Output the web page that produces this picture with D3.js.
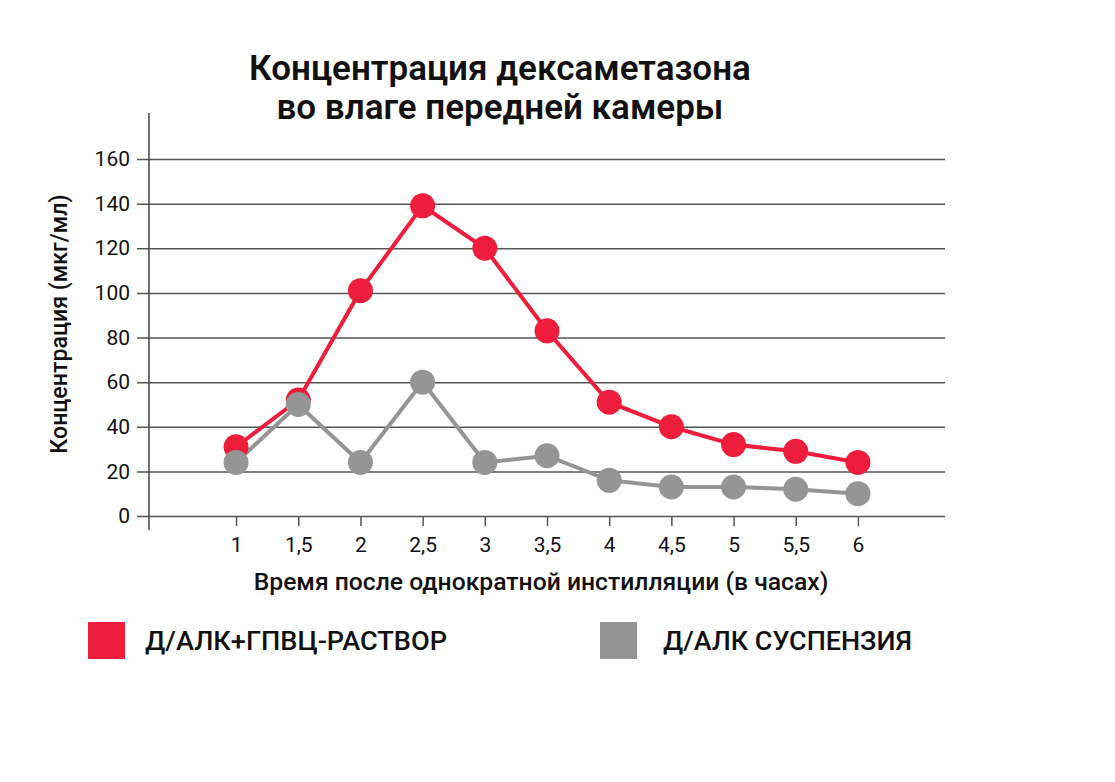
<!DOCTYPE html>
<html>
<head>
<meta charset="utf-8">
<script src="https://cdn.jsdelivr.net/npm/d3@7"></script>
<style>
  body { margin: 0; background: #fff; }
  text { font-family: Roboto, "Noto Sans", sans-serif; fill: #111; }
</style>
</head>
<body>
<div id="chart"></div>
<script>
// Chart data
var hours = [1, 1.5, 2, 2.5, 3, 3.5, 4, 4.5, 5, 5.5, 6];
var hourLabels = ["1", "1,5", "2", "2,5", "3", "3,5", "4", "4,5", "5", "5,5", "6"];
var solution = [31, 52, 101, 139, 120, 83, 51, 40, 32, 29, 24];   // Д/АЛК+ГПВЦ-РАСТВОР
var suspension = [24, 50, 24, 60, 24, 27, 16, 13, 13, 12, 10];    // Д/АЛК СУСПЕНЗИЯ
var yTicks = [0, 20, 40, 60, 80, 100, 120, 140, 160];
var seriesNames = ["Д/АЛК+ГПВЦ-РАСТВОР", "Д/АЛК СУСПЕНЗИЯ"];
var seriesColors = ["#ee1d3b", "#959595"];

var w = 1115, h = 782;

var svg = d3.select("#chart").append("svg")
    .attr("width", w)
    .attr("height", h);

// Scales
var x = d3.scaleLinear().domain([0.3, 6.7]).range([149, 945]);
var y = d3.scaleLinear().domain([0, 160]).range([516, 159]);

// Horizontal grid lines (also act as y ticks)
svg.append("g")
    .attr("transform", "translate(149,0)")
    .call(d3.axisLeft(y).tickValues(yTicks).tickSizeOuter(0))
    .call(function(g) {
        g.select(".domain").remove();
        g.selectAll(".tick line").attr("x1", -12).attr("x2", 945 - 149)
            .attr("stroke", "#555").attr("stroke-width", 1.5);
        g.selectAll(".tick text").attr("x", -19).attr("font-size", 21).attr("fill", "#111")
            .style("font-family", "Roboto");
    });

// Y axis vertical line
svg.append("line")
    .attr("x1", 149).attr("x2", 149)
    .attr("y1", 113).attr("y2", 530)
    .attr("stroke", "#444").attr("stroke-width", 1.5);

// X axis ticks and labels
svg.append("g")
    .attr("transform", "translate(0,516)")
    .call(d3.axisBottom(x).tickValues(hours).tickFormat(function(d, i) { return hourLabels[i]; })
        .tickSize(10).tickPadding(11))
    .call(function(g) {
        g.select(".domain").remove();
        g.selectAll(".tick line").attr("stroke", "#555").attr("stroke-width", 1.5);
        g.selectAll(".tick text").attr("font-size", 21).attr("fill", "#111")
            .style("font-family", "Roboto");
    });

// Lines and markers
var line = d3.line()
    .x(function(d, i) { return x(hours[i]); })
    .y(function(d) { return y(d); });

[suspension, solution].forEach(function(series) {
    var color = series === solution ? seriesColors[0] : seriesColors[1];
    svg.append("path")
        .datum(series)
        .attr("d", line)
        .attr("fill", "none")
        .attr("stroke", color)
        .attr("stroke-width", 4);
});

// Draw red markers first so gray ones sit on top where they overlap
[solution, suspension].forEach(function(series) {
    var color = series === solution ? seriesColors[0] : seriesColors[1];
    svg.append("g").selectAll("circle")
        .data(series)
        .enter().append("circle")
        .attr("cx", function(d, i) { return x(hours[i]); })
        .attr("cy", function(d) { return y(d); })
        .attr("r", 12.5)
        .attr("fill", color);
});

// Title
svg.append("text")
    .attr("x", 500).attr("y", 80)
    .attr("text-anchor", "middle")
    .attr("font-size", 35).attr("font-weight", 600)
    .text("Концентрация дексаметазона");
svg.append("text")
    .attr("x", 500).attr("y", 119)
    .attr("text-anchor", "middle")
    .attr("font-size", 35).attr("font-weight", 600)
    .text("во влаге передней камеры");

// Axis titles
svg.append("text")
    .attr("transform", "translate(67,324) rotate(-90)")
    .attr("text-anchor", "middle")
    .attr("font-size", 23.2).attr("font-weight", 500)
    .text("Концентрация (мкг/мл)");

svg.append("text")
    .attr("x", 541).attr("y", 590)
    .attr("text-anchor", "middle")
    .attr("font-size", 24.7).attr("font-weight", 500)
    .text("Время после однократной инстилляции (в часах)");

// Legend
var legendX = [88, 600];
var legendTextX = [57, 63];
var legendW = [302, 249];
seriesNames.forEach(function(name, i) {
    var g = svg.append("g").attr("transform", "translate(" + legendX[i] + ",622)");
    g.append("rect").attr("width", 37).attr("height", 37).attr("fill", seriesColors[i]);
    g.append("text")
        .attr("x", legendTextX[i]).attr("y", 28)
        .attr("font-size", 26).attr("font-weight", 500)
        .attr("textLength", legendW[i]).attr("lengthAdjust", "spacingAndGlyphs")
        .text(name);
});
</script>
</body>
</html>
